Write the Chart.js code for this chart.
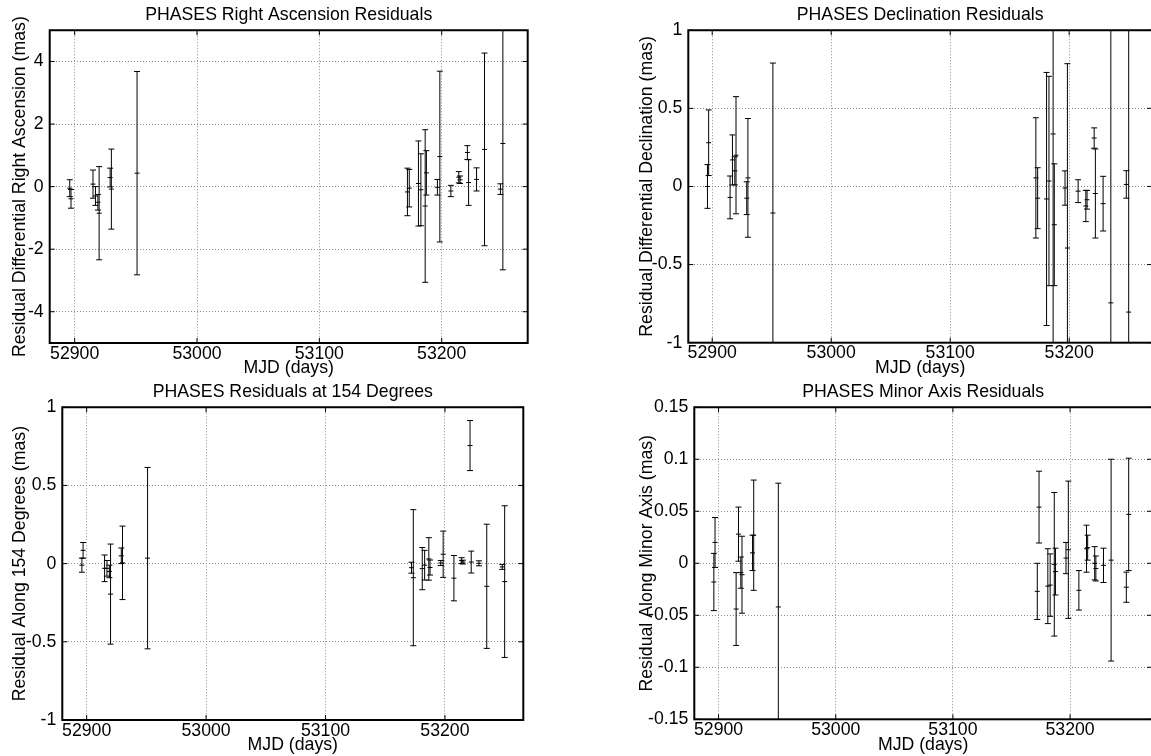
<!DOCTYPE html>
<html><head><meta charset="utf-8">
<script src="https://cdn.jsdelivr.net/npm/chart.js@4.4.1/dist/chart.umd.min.js"></script>
<style>
html,body{margin:0;padding:0;background:#fff;overflow:hidden;width:1151px;height:756px;position:relative;}
canvas{position:absolute;display:block;}
</style></head><body>
<canvas id="c0"></canvas><canvas id="c1"></canvas><canvas id="c2"></canvas><canvas id="c3"></canvas>
<script>
// ---- data ----
const mjd = [52896, 52897, 52915, 52917, 52919, 52920, 52929, 52930, 52951,
             53172, 53173.5, 53181, 53183, 53186.5, 53187.5, 53196.5, 53198.5, 53207.5,
             53214, 53215, 53221, 53222, 53228.5, 53235, 53248, 53250];

const raRes = [-0.05, -0.39, 0.08, -0.30, -0.50, -0.85, 0.29, -0.08, 0.43,
               -0.17, -0.05, 0.10, -0.10, -0.62, 0.44, -0.02, 0.96, -0.14,
               0.30, 0.22, 1.09, 0.13, 0.23, 1.19, -0.08, 1.38];
const raErr = [0.27, 0.30, 0.45, 0.30, 0.25, 1.49, 0.30, 1.28, 3.25,
               0.76, 0.60, 1.36, 1.15, 2.44, 0.71, 0.25, 2.73, 0.18,
               0.18, 0.12, 0.22, 0.73, 0.37, 3.08, 0.17, 4.04];

const decRes = [0.00, 0.28, -0.07, 0.17, 0.10, 0.20, -0.075, 0.055, -0.17,
                0.055, -0.075, -0.08, 0.035, 0.336, -0.245, -0.01, -0.394, -0.03,
                -0.125, -0.085, 0.31, -0.045, -0.11, -0.745, 0.013, -0.804];
const decErr = [0.14, 0.21, 0.137, 0.16, 0.09, 0.375, 0.105, 0.38, 0.96,
                0.385, 0.195, 0.81, 0.67, 1.5, 0.39, 0.11, 1.18, 0.073,
                0.10, 0.06, 0.065, 0.285, 0.175, 1.9, 0.088, 2.0];

const p154Res = [-0.01, 0.085, -0.03, -0.03, -0.05, -0.195, 0.05, 0.005, 0.035,
                 -0.026, -0.09, -0.032, -0.01, 0.03, -0.025, 0.004, 0.06, -0.093,
                 0.019, 0.01, 0.755, 0.01, 0.002, -0.145, -0.021, -0.115];
const p154Err = [0.045, 0.05, 0.085, 0.05, 0.04, 0.32, 0.05, 0.235, 0.58,
                 0.035, 0.435, 0.135, 0.095, 0.136, 0.048, 0.016, 0.148, 0.145,
                 0.019, 0.012, 0.16, 0.07, 0.016, 0.397, 0.016, 0.485];

const minRes = [-0.018, 0.02, -0.044, 0.028, -0.009, -0.011, 0.01, 0.027, -0.042,
                -0.027, 0.054, -0.022, -0.021, -0.001, -0.008, 0.005, 0.013, -0.026,
                0.014, 0.015, 0.0, -0.005, -0.002, 0.003, -0.023, 0.047];
const minErr = [0.0275, 0.024, 0.035, 0.026, 0.015, 0.037, 0.017, 0.053, 0.119,
                0.027, 0.0345, 0.036, 0.03, 0.069, 0.0225, 0.015, 0.066, 0.019,
                0.0226, 0.012, 0.016, 0.012, 0.0165, 0.097, 0.0145, 0.054];

const xTicks = [52900, 53000, 53100, 53200];
const raTicks = [-4, -2, 0, 2, 4];
const decTicks = [-1, -0.5, 0, 0.5, 1];
const p154Ticks = [-1, -0.5, 0, 0.5, 1];
const minTicks = [-0.15, -0.1, -0.05, 0, 0.05, 0.1, 0.15];

// ---- layout / style ----
const FS = 17.7;
Chart.defaults.font.family = "'Liberation Sans', Arial, Helvetica, sans-serif";
Chart.defaults.color = '#000';

const panels = [
  {id:'c0', left:0,   top:0,   w:575, h:379, yw:49.7,  padR:47.3, xh:36,   ytp:9.5,
   xmin:52879.6, xmax:53270.3, ymin:-5, ymax:5, yt:raTicks, y:raRes, e:raErr,
   title:'PHASES Right Ascension Residuals', ytitle:'Residual Differential Right Ascension (mas)'},
  {id:'c1', left:576, top:0,   w:580, h:379, yw:112.3, padR:3,    xh:36.3, ytp:60.5,
   xmin:52879.9, xmax:53269.6, ymin:-1, ymax:1, yt:decTicks, y:decRes, e:decErr,
   title:'PHASES Declination Residuals', ytitle:'Residual Differential Declination (mas)'},
  {id:'c2', left:0,   top:377, w:575, h:379, yw:62.3,  padR:51.7, xh:36,   ytp:9.5,
   xmin:52879.6, xmax:53265.6, ymin:-1, ymax:1, yt:p154Ticks, y:p154Res, e:p154Err,
   title:'PHASES Residuals at 154 Degrees', ytitle:'Residual Along 154 Degrees (mas)'},
  {id:'c3', left:576, top:377, w:580, h:379, yw:118.3, padR:2,    xh:36.7, ytp:60.5,
   xmin:52879.3, xmax:53269.9, ymin:-0.15, ymax:0.15, yt:minTicks, y:minRes, e:minErr,
   title:'PHASES Minor Axis Residuals', ytitle:'Residual Along Minor Axis (mas)'}
];

const frame = {
  id: 'frame',
  afterDraw(chart) {
    const {ctx, chartArea: a, scales: {x, y}} = chart;
    ctx.save();
    ctx.strokeStyle = '#000';
    ctx.lineWidth = 1;
    ctx.beginPath();
    x.ticks.forEach(t => {
      const px = x.getPixelForValue(t.value);
      ctx.moveTo(px, a.bottom); ctx.lineTo(px, a.bottom - 5);
      ctx.moveTo(px, a.top); ctx.lineTo(px, a.top + 5);
    });
    y.ticks.forEach(t => {
      const py = y.getPixelForValue(t.value);
      ctx.moveTo(a.left, py); ctx.lineTo(a.left + 5, py);
      ctx.moveTo(a.right, py); ctx.lineTo(a.right - 5, py);
    });
    ctx.stroke();
    ctx.lineWidth = 2;
    ctx.strokeRect(a.left, a.top, a.right - a.left, a.bottom - a.top);
    ctx.restore();
  }
};

function makePanel(p) {
  const cv = document.getElementById(p.id);
  cv.width = p.w; cv.height = p.h;
  cv.style.left = p.left + 'px'; cv.style.top = p.top + 'px';
  cv.style.width = p.w + 'px'; cv.style.height = p.h + 'px';

  const datasets = [];
  p.y.forEach((v, i) => {
    datasets.push({
      data: [{x: mjd[i], y: v - p.e[i]}, {x: mjd[i], y: v + p.e[i]}],
      showLine: true, borderColor: '#000', borderWidth: 1,
      pointStyle: 'line', pointRadius: 3, pointHoverRadius: 3,
      pointBorderColor: '#000', pointBorderWidth: 1, pointBackgroundColor: '#000'
    });
  });
  datasets.push({
    data: p.y.map((v, i) => ({x: mjd[i], y: v})),
    showLine: false, pointStyle: 'line', pointRadius: 2.5, pointHoverRadius: 2.5,
    pointBorderColor: '#000', pointBorderWidth: 1
  });

  const gridOpts = {color: '#8c8c8c', lineWidth: 1, drawTicks: false};
  const borderOpts = {display: false, dash: [1, 2]};

  new Chart(cv, {
    type: 'scatter',
    data: {datasets},
    plugins: [frame],
    options: {
      responsive: false, animation: false, devicePixelRatio: 1, events: [],
      layout: {padding: {left: 0, top: 0, bottom: 0, right: p.padR}},
      plugins: {
        legend: {display: false}, tooltip: {enabled: false},
        title: {display: true, text: p.title, fullSize: false, color: '#000',
                font: {size: FS, weight: 'normal'}, padding: {top: 4, bottom: 5}}
      },
      scales: {
        x: {
          type: 'linear', min: p.xmin, max: p.xmax,
          afterBuildTicks: s => { s.ticks = xTicks.map(v => ({value: v})); },
          afterFit: s => { s.height = p.xh; },
          ticks: {color: '#000', font: {size: FS}, padding: 0, maxRotation: 0, autoSkip: false,
                  callback: v => String(v)},
          grid: gridOpts, border: borderOpts,
          title: {display: true, text: 'MJD (days)', color: '#000', font: {size: FS},
                  padding: {top: 0, bottom: 0}}
        },
        y: {
          type: 'linear', min: p.ymin, max: p.ymax,
          afterBuildTicks: s => { s.ticks = p.yt.map(v => ({value: v})); },
          afterFit: s => { s.width = p.yw; },
          ticks: {color: '#000', font: {size: FS}, padding: 6, autoSkip: false,
                  callback: v => String(v)},
          grid: gridOpts, border: borderOpts,
          title: {display: true, text: p.ytitle, color: '#000', font: {size: FS},
                  padding: {top: p.ytp, bottom: 0}}
        }
      }
    }
  });
}

panels.forEach(makePanel);
</script>
</body></html>
